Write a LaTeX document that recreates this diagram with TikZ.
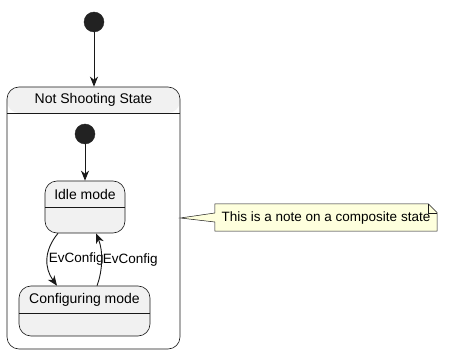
\documentclass[tikz,border=0pt]{standalone}
\usepackage{fontspec}
\setmainfont{Liberation Sans}
\usepackage{xcolor}
\usetikzlibrary{arrows.meta,positioning}
\definecolor{stategray}{HTML}{F1F1F1}
\definecolor{lineblack}{HTML}{181818}
\definecolor{dotblack}{HTML}{222222}
\definecolor{noteyellow}{HTML}{FEFFDD}

\begin{document}
\begin{tikzpicture}
    [x=1pt, y=-1pt, font=\fontsize{14}{16}\selectfont,
     initdot/.style={circle, fill=dotblack, draw=dotblack, inner sep=0pt, minimum size=20pt},
     statebox/.style={draw=lineblack, line width=0.6pt, rounded corners=12pt, fill=stategray, inner sep=0pt,
         path picture={\draw[lineblack, line width=0.6pt] ([yshift=-#1]path picture bounding box.north west) -- ([yshift=-#1]path picture bounding box.north east);}},
     trans/.style={-{Stealth[length=10pt, width=8pt, inset=3pt]}, draw=lineblack, line width=0.9pt},
     lbl/.style={font=\fontsize{13.5}{15}\selectfont, inner sep=1pt}]
    \useasboundingbox (0,0) rectangle (451,361);

    \node[initdot] (start) at (94,22) {};

    % composite state
    \node[draw=lineblack, line width=0.6pt, rounded corners=12pt, fill=white, inner sep=0pt,
          minimum width=173pt, minimum height=262pt,
          path picture={\fill[stategray] (path picture bounding box.north west) rectangle ([yshift=-26pt]path picture bounding box.north east);
                        \draw[lineblack, line width=0.6pt] ([yshift=-26pt]path picture bounding box.north west) -- ([yshift=-26pt]path picture bounding box.north east);}]
          (comp) at (93.5,218) {};
    \node (comptitle) at (comp.north |- 0,100) {Not Shooting State};

    \node[initdot] (start2) at (85,134) {};
    \node[statebox=26pt, minimum width=80pt, minimum height=52pt] (idle) at (85,207) {};
    \node (idletitle) at (idle.north |- 0,194) {Idle mode};
    \node[statebox=27pt, minimum width=131pt, minimum height=50pt] (config) at (84.5,311) {};
    \node (configtitle) at (config.north |- 0,300) {Configuring mode};

    \draw[trans] (start) -- (start |- comp.north);
    \draw[trans] (start2) -- (idle.north);
    \draw[trans] ([xshift=-27pt]idle.south) .. controls +(-14,17) and +(-13,-18) .. ([xshift=-27.5pt]config.north)
        node[lbl, pos=0.5, anchor=west] (lblin) {EvConfig};
    \draw[trans] ([xshift=12.5pt]config.north) .. controls +(6,-16) and +(7,17) .. ([xshift=11pt]idle.south)
        node[lbl, pos=0.5, anchor=west] (lblout) {EvConfig};

    % note
    \node[minimum width=222pt, minimum height=27pt, inner sep=0pt] (note) at (326,217.5) {};
    \filldraw[fill=noteyellow, draw=lineblack, line width=0.5pt]
        (note.north west) -- ([xshift=-9pt]note.north east) -- ([yshift=-9pt]note.north east)
        -- (note.south east) -- (note.south west) -- ([yshift=-4.5pt]note.west)
        -- (comp.east) -- ([yshift=4.5pt]note.west) -- cycle;
    \draw[lineblack, line width=0.5pt] ([xshift=-9pt]note.north east) -- ++(0,9) -- ([yshift=-9pt]note.north east);
    \node[lbl] (notetext) at ([yshift=-1pt]note.center) {This is a note on a composite state};
\end{tikzpicture}
\end{document}
